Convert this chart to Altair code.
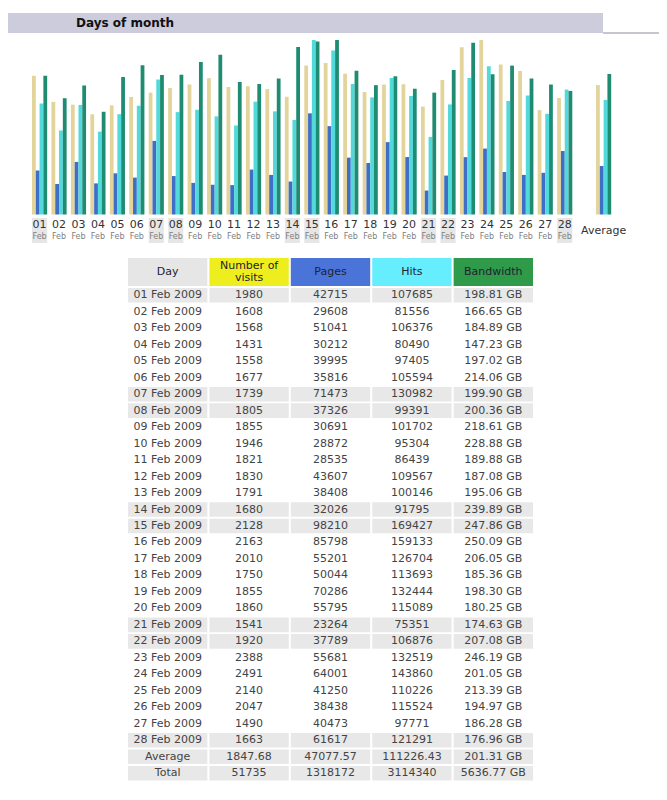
import altair as alt
import pandas as pd

# ---------------- data ----------------
month = "Feb"
year = "2009"
days = ["01", "02", "03", "04", "05", "06", "07", "08", "09", "10", "11", "12", "13", "14",
        "15", "16", "17", "18", "19", "20", "21", "22", "23", "24", "25", "26", "27", "28"]
weekend_days = ["01", "07", "08", "14", "15", "21", "22", "28"]

visits = [1980, 1608, 1568, 1431, 1558, 1677, 1739, 1805, 1855, 1946, 1821, 1830, 1791, 1680,
          2128, 2163, 2010, 1750, 1855, 1860, 1541, 1920, 2388, 2491, 2140, 2047, 1490, 1663]
pages = [42715, 29608, 51041, 30212, 39995, 35816, 71473, 37326, 30691, 28872, 28535, 43607, 38408, 32026,
         98210, 85798, 55201, 50044, 70286, 55795, 23264, 37789, 55681, 64001, 41250, 38438, 40473, 61617]
hits = [107685, 81556, 106376, 80490, 97405, 105594, 130982, 99391, 101702, 95304, 86439, 109567, 100146, 91795,
        169427, 159133, 126704, 113693, 132444, 115089, 75351, 106876, 132519, 143860, 110226, 115524, 97771, 121291]
bandwidth = [198.81, 166.65, 184.89, 147.23, 197.02, 214.06, 199.90, 200.36, 218.61, 228.88, 189.88, 187.08, 195.06, 239.89,
             247.86, 250.09, 206.05, 185.36, 198.30, 180.25, 174.63, 207.08, 246.19, 201.05, 213.39, 194.97, 186.28, 176.96]

avg_values = [1847.68, 47077.57, 111226.43, 201.31]
total_values = [51735, 1318172, 3114340, 5636.77]

series = ["Number of visits", "Pages", "Hits", "Bandwidth"]
columns = ["Day", "Number of visits", "Pages", "Hits", "Bandwidth"]
header_single = ["Day", "Pages", "Hits", "Bandwidth"]
header_double = ["Number of\nvisits"]

bar_colors = ["#E3D49C", "#3F6EC6", "#52D9DC", "#1F8C72"]
header_fills = ["#E6E6E6", "#EEEE1E", "#4A74D8", "#66EEFF", "#2F9A4A"]
title_text = "Days of month"

FONT = "DejaVu Sans"
W = 651

# ---------------- title band ----------------
title_df = pd.DataFrame({"t": [title_text]})
band = alt.Chart(title_df).mark_rect(color="#CCCCDC").encode(
    x=alt.value(0), x2=alt.value(595), y=alt.value(5), y2=alt.value(25))
band_line = alt.Chart(title_df).mark_rect(color="#C6C6D2").encode(
    x=alt.value(595), x2=alt.value(W), y=alt.value(24), y2=alt.value(26))
band_text = alt.Chart(title_df).mark_text(
    align="left", baseline="middle", fontSize=12, fontWeight="bold", color="#111111", font=FONT
).encode(x=alt.value(68), y=alt.value(15), text="t:N")
title_chart = alt.layer(band, band_line, band_text).properties(width=W, height=28)

# ---------------- bar chart ----------------
max_v = max(visits)
max_h = max(hits)
max_b = max(bandwidth)

bar_rows = []
for i, d in enumerate(days):
    bar_rows.append({"day": d, "series": series[0], "frac": visits[i] / max_v})
    bar_rows.append({"day": d, "series": series[1], "frac": pages[i] / max_h})
    bar_rows.append({"day": d, "series": series[2], "frac": hits[i] / max_h})
    bar_rows.append({"day": d, "series": series[3], "frac": bandwidth[i] / max_b})
bar_rows.append({"day": "Average", "series": series[0], "frac": avg_values[0] / max_v})
bar_rows.append({"day": "Average", "series": series[1], "frac": avg_values[1] / max_h})
bar_rows.append({"day": "Average", "series": series[2], "frac": avg_values[2] / max_h})
bar_rows.append({"day": "Average", "series": series[3], "frac": avg_values[3] / max_b})
bar_df = pd.DataFrame(bar_rows)

x_domain = days + [" ", "Average"]
xscale = alt.Scale(domain=x_domain, range=[24, 603.2], paddingInner=0.22, paddingOuter=0)

bars = alt.Chart(bar_df).mark_bar(strokeWidth=0).encode(
    x=alt.X("day:N", scale=xscale, axis=None),
    xOffset=alt.XOffset("series:N", scale=alt.Scale(domain=series, paddingInner=0, paddingOuter=0)),
    y=alt.Y("frac:Q", scale=alt.Scale(domain=[0, 1], range=[178.5, 4]), axis=None),
    color=alt.Color("series:N", scale=alt.Scale(domain=series, range=bar_colors), legend=None),
)

we_df = pd.DataFrame({"day": weekend_days})
label_bg = alt.Chart(we_df).mark_rect(color="#E6E6E6").encode(
    x=alt.X("day:N", scale=xscale, axis=None), y=alt.value(182), y2=alt.value(207))

lab_df = pd.DataFrame({"day": days, "mon": [month] * len(days)})
day_nums = alt.Chart(lab_df).mark_text(fontSize=11, color="#333333", baseline="middle", font=FONT).encode(
    x=alt.X("day:N", scale=xscale, axis=None), y=alt.value(189), text="day:N")
day_mon = alt.Chart(lab_df).mark_text(fontSize=8, color="#808080", baseline="middle", font=FONT).encode(
    x=alt.X("day:N", scale=xscale, axis=None), y=alt.value(201), text="mon:N")
avg_df = pd.DataFrame({"day": ["Average"]})
avg_lab = alt.Chart(avg_df).mark_text(fontSize=11, color="#333333", baseline="middle", font=FONT).encode(
    x=alt.X("day:N", scale=xscale, axis=None), y=alt.value(195), text="day:N")

bar_chart = alt.layer(label_bg, bars, day_nums, day_mon, avg_lab).properties(width=W, height=207)

# ---------------- table ----------------
def fmt_int(v):
    return str(int(v))

row_labels = [f"{d} {month} {year}" for d in days] + ["Average", "Total"]
cells = []
for i, d in enumerate(days):
    bg = "#E8E8E8" if d in weekend_days else "#FFFFFF"
    vals = [row_labels[i], fmt_int(visits[i]), fmt_int(pages[i]), fmt_int(hits[i]), f"{bandwidth[i]:.2f} GB"]
    for c, v in zip(columns, vals):
        cells.append({"row": row_labels[i], "col": c, "txt": v, "bg": bg})
avg_txt = ["Average", f"{avg_values[0]:.2f}", f"{avg_values[1]:.2f}", f"{avg_values[2]:.2f}", f"{avg_values[3]:.2f} GB"]
tot_txt = ["Total", fmt_int(total_values[0]), fmt_int(total_values[1]), fmt_int(total_values[2]), f"{total_values[3]:.2f} GB"]
for c, v in zip(columns, avg_txt):
    cells.append({"row": "Average", "col": c, "txt": v, "bg": "#E8E8E8"})
for c, v in zip(columns, tot_txt):
    cells.append({"row": "Total", "col": c, "txt": v, "bg": "#E8E8E8"})
cell_df = pd.DataFrame(cells)

colscale = alt.Scale(domain=columns, range=[120, 525], paddingInner=0.025, paddingOuter=0)
rowscale = alt.Scale(domain=row_labels, range=[45, 537.5], paddingInner=0.115, paddingOuter=0)

cell_bg = alt.Chart(cell_df).mark_rect().encode(
    x=alt.X("col:N", scale=colscale, axis=None),
    y=alt.Y("row:N", scale=rowscale, axis=None),
    fill=alt.Fill("bg:N", scale=None),
)
cell_txt = alt.Chart(cell_df).mark_text(fontSize=11, color="#444444", baseline="middle", font=FONT).encode(
    x=alt.X("col:N", scale=colscale, axis=None),
    y=alt.Y("row:N", scale=rowscale, axis=None),
    text="txt:N",
)

head_df = pd.DataFrame({"col": columns, "fill": header_fills})
head_bg = alt.Chart(head_df).mark_rect().encode(
    x=alt.X("col:N", scale=colscale, axis=None),
    y=alt.value(15), y2=alt.value(43),
    fill=alt.Fill("fill:N", scale=None),
)
h1_df = pd.DataFrame({"col": ["Day", "Pages", "Hits", "Bandwidth"], "label": header_single})
h2_df = pd.DataFrame({"col": ["Number of visits"], "label": header_double})
head_txt1 = alt.Chart(h1_df).mark_text(fontSize=11, color="#222233", baseline="middle", font=FONT).encode(
    x=alt.X("col:N", scale=colscale, axis=None), y=alt.value(29), text="label:N")
head_txt2 = alt.Chart(h2_df).mark_text(fontSize=11, color="#222233", baseline="middle",
                                       lineBreak="\n", lineHeight=12, font=FONT).encode(
    x=alt.X("col:N", scale=colscale, axis=None), y=alt.value(23), text="label:N")

table_chart = alt.layer(head_bg, head_txt1, head_txt2, cell_bg, cell_txt).properties(width=W, height=541)

chart = alt.vconcat(title_chart, bar_chart, table_chart, spacing=0).properties(
    padding=0, background="white"
).configure(font=FONT).configure_view(stroke=None)

chart.save("out.html", embed_options={"renderer": "svg", "actions": False})
